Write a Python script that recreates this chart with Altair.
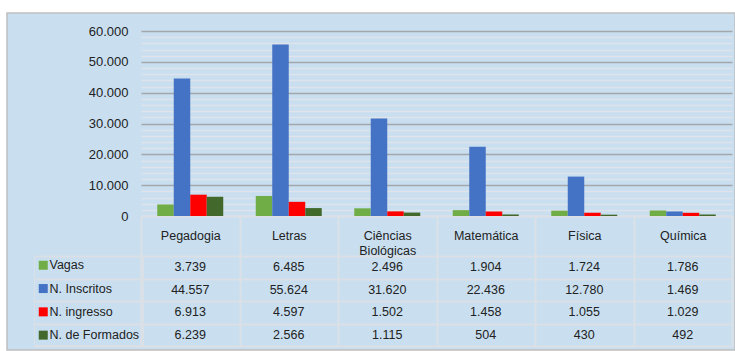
import altair as alt
import pandas as pd

# Cursos de licenciatura: vagas, inscritos, ingressantes e formados
cursos = ["Pegadogia", "Letras", "Ciências Biológicas", "Matemática", "Física", "Química"]
series = ["Vagas", "N. Inscritos", "N. ingresso", "N. de Formados"]
cores = ["#70ad47", "#4472c4", "#ff0000", "#43682b"]

vagas = [3739, 6485, 2496, 1904, 1724, 1786]
inscritos = [44557, 55624, 31620, 22436, 12780, 1469]
ingresso = [6913, 4597, 1502, 1458, 1055, 1029]
formados = [6239, 2566, 1115, 504, 430, 492]

y_ticks = list(range(0, 60001, 2000))

rows = []
for nome, valores in zip(series, [vagas, inscritos, ingresso, formados]):
    for curso, v in zip(cursos, valores):
        rows.append({
            "curso": curso,
            "serie": nome,
            "valor": v,
            "rotulo": f"{v:,}".replace(",", "."),
        })
df = pd.DataFrame(rows)

FONT = "Liberation Sans"
LINE = "#dbe0e6"
TEXT = "#222222"

x_scale = alt.Scale(domain=cursos, range=[134, 725], paddingInner=0, paddingOuter=0)

# category axis doubles as the header row and the vertical table rules
x_axis = alt.Axis(
    title=None,
    orient="bottom",
    offset=-134,
    domainColor=LINE,
    domainWidth=2,
    ticks=True,
    tickBand="extent",
    tickSize=130,
    tickColor=LINE,
    tickWidth=2,
    labelPadding=-111,
    labelBaseline="middle",
    labelAngle=0,
    labelFont=FONT,
    labelFontSize=12.5,
    labelColor=TEXT,
    labelLineHeight=15,
    labelExpr="split(datum.label, ' ')",
    grid=False,
)

bars = alt.Chart(df).mark_bar().encode(
    x=alt.X("curso:N", scale=x_scale, sort=cursos, axis=x_axis),
    xOffset=alt.XOffset(
        "serie:N",
        sort=series,
        scale=alt.Scale(domain=series, paddingInner=0, paddingOuter=0.985),
    ),
    y=alt.Y(
        "valor:Q",
        scale=alt.Scale(domain=[0, 60000], range=[203, 18], nice=False),
        axis=alt.Axis(
            title=None,
            orient="left",
            offset=-134,
            values=y_ticks,
            domain=False,
            ticks=False,
            labelPadding=13,
            labelFont=FONT,
            labelFontSize=13,
            labelColor=TEXT,
            labelExpr="datum.value % 10000 === 0 ? replace(format(datum.value, ','), ',', '.') : ''",
            grid=True,
            gridWidth=1.6,
            gridColor={
                "condition": {
                    "test": "datum.value > 0 && datum.value % 10000 === 0",
                    "value": "#a3a7ab",
                },
                "value": "#dfe4ea",
            },
        ),
    ),
    color=alt.Color(
        "serie:N",
        scale=alt.Scale(domain=series, range=cores),
        legend=alt.Legend(
            title=None,
            orient="none",
            legendX=27,
            legendY=243,
            padding=3,
            symbolType="square",
            symbolSize=81,
            symbolStrokeWidth=0,
            labelFont=FONT,
            labelFontSize=12.5,
            labelColor=TEXT,
            labelOffset=0,
            rowPadding=10.3,
            strokeColor=LINE,
        ),
    ),
)

table = alt.Chart(df).mark_text(font=FONT, fontSize=12.5, color=TEXT).encode(
    x=alt.X("curso:N", scale=x_scale, sort=cursos, axis=x_axis),
    y=alt.Y(
        "serie:N",
        sort=series,
        scale=alt.Scale(domain=series, range=[243, 333], paddingInner=0, paddingOuter=0),
        axis=alt.Axis(
            title=None,
            orient="left",
            offset=-134,
            labels=False,
            domain=True,
            domainColor=LINE,
            domainWidth=2,
            ticks=True,
            tickBand="extent",
            tickSize=107,
            tickColor=LINE,
            tickWidth=2,
            grid=True,
            gridColor=LINE,
            gridWidth=2,
        ),
    ),
    text="rotulo:N",
)

chart = (
    alt.layer(bars, table)
    .resolve_scale(y="independent")
    .resolve_axis(y="independent")
    .properties(
        width=728,
        height=337,
        padding={"left": 7, "top": 13, "right": 0, "bottom": 1},
        autosize=alt.AutoSizeParams(type="none"),
        background="#ffffff",
    )
    .configure_view(fill="#c9dff0", stroke="#bfbfbf", strokeWidth=1.5)
)

chart.save("out.html", embed_options={"renderer": "svg", "actions": False})
